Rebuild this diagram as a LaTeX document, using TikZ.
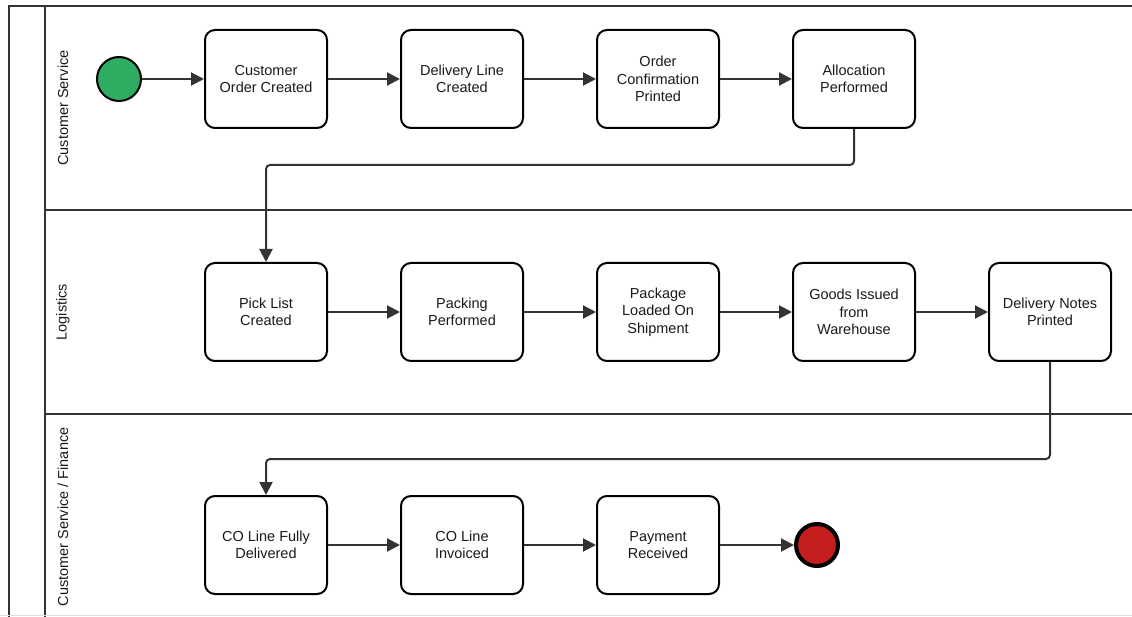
\documentclass[tikz,border=0pt]{standalone}
\usepackage{fontspec}
\setmainfont{Liberation Sans}
\usetikzlibrary{arrows.meta}
\definecolor{lanecol}{HTML}{333333}
\definecolor{startgreen}{HTML}{2EAD62}
\definecolor{endred}{HTML}{C41E1E}
\definecolor{txt}{HTML}{1A1A1A}
\tikzset{
  task/.style={draw=black, line width=2pt, rounded corners=10pt, fill=white,
    minimum width=122pt, minimum height=98pt, inner sep=0pt,
    align=center, text=txt, font=\fontsize{14.5}{17.5}\selectfont},
  lane/.style={draw=lanecol, line width=2pt},
  lanelabel/.style={rotate=90, text=txt, font=\fontsize{14.5}{17.5}\selectfont, inner sep=0pt},
  flow/.style={draw=lanecol, line width=2pt, rounded corners=4pt,
    -{Triangle[length=13pt,width=13pt]}},
}
\begin{document}
\begin{tikzpicture}[x=1pt,y=-1pt]
\useasboundingbox (0,0) rectangle (1132,617);
\fill[white] (0,0) rectangle (1132,617);
% pool and lanes
\draw[lane] (9,617) -- (9,6) -- (1132,6);
\draw[lane] (45,6) -- (45,617);
\draw[lane] (45,210) -- (1132,210);
\draw[lane] (45,414) -- (1132,414);
\draw[draw=black!12, line width=1pt] (0,615.5) -- (1132,615.5);
\node[lanelabel] (l1) at (63,108) {Customer Service};
\node[lanelabel] (l2) at (63,312) {Logistics};
\node[lanelabel] (l3) at (63,517) {Customer Service / Finance};
% events
\node[circle, draw=black, line width=2pt, fill=startgreen, minimum size=44pt, inner sep=0pt] (start) at (119,79) {};
\node[circle, draw=black, line width=4pt, fill=endred, minimum size=42pt, inner sep=0pt] (end) at (817,545) {};
% row 1
\node[task] (t1) at (266,79) {Customer\\Order Created};
\node[task] (t2) at (462,79) {Delivery Line\\Created};
\node[task] (t3) at (658,79) {Order\\Confirmation\\Printed};
\node[task] (t4) at (854,79) {Allocation\\Performed};
% row 2
\node[task] (t5) at (266,312) {Pick List\\Created};
\node[task] (t6) at (462,312) {Packing\\Performed};
\node[task] (t7) at (658,312) {Package\\Loaded On\\Shipment};
\node[task] (t8) at (854,312) {Goods Issued\\from\\Warehouse};
\node[task] (t9) at (1050,312) {Delivery Notes\\Printed};
% row 3
\node[task] (t10) at (266,545) {CO Line Fully\\Delivered};
\node[task] (t11) at (462,545) {CO Line\\Invoiced};
\node[task] (t12) at (658,545) {Payment\\Received};
% flows
\draw[flow] (start) -- (t1);
\draw[flow] (t1) -- (t2);
\draw[flow] (t2) -- (t3);
\draw[flow] (t3) -- (t4);
\draw[flow] (t4.south) -- (854,165) -- (266,165) -- (t5.north);
\draw[flow] (t5) -- (t6);
\draw[flow] (t6) -- (t7);
\draw[flow] (t7) -- (t8);
\draw[flow] (t8) -- (t9);
\draw[flow] (t9.south) -- (1050,459) -- (266,459) -- (t10.north);
\draw[flow] (t10) -- (t11);
\draw[flow] (t11) -- (t12);
\draw[flow] (t12) -- (end);
\end{tikzpicture}
\end{document}
